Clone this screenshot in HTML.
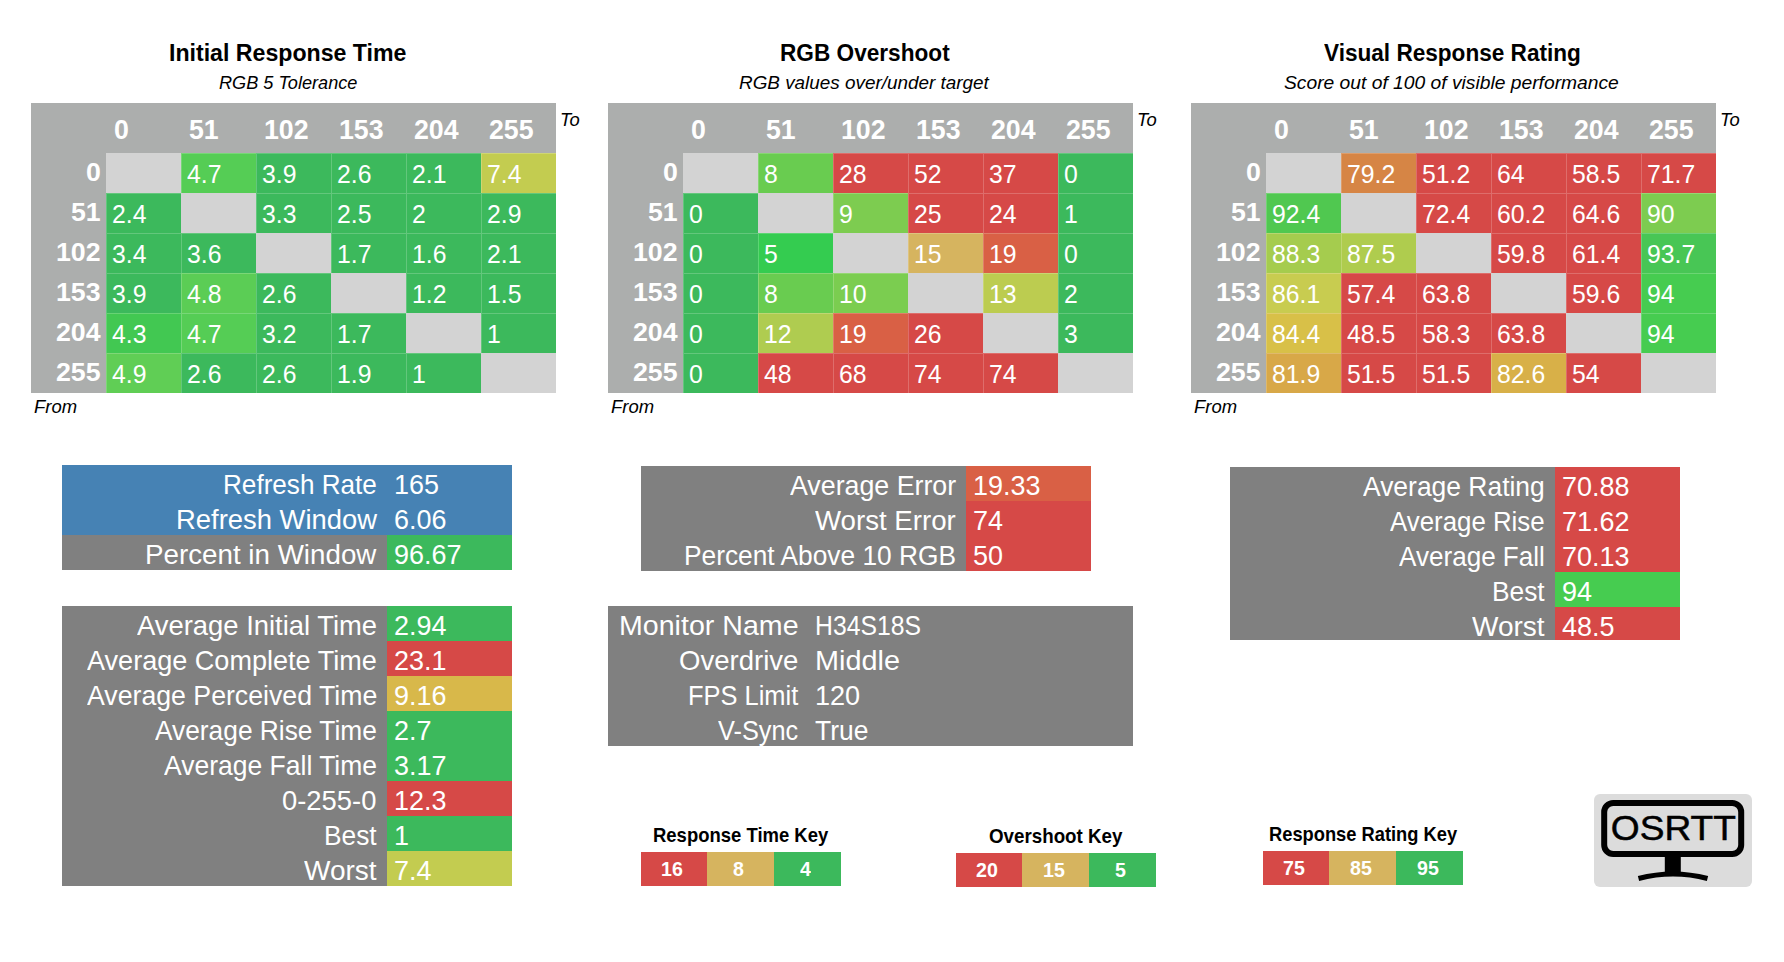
<!DOCTYPE html>
<html lang="en">
<head>
<meta charset="utf-8">
<title>OSRTT Heatmaps - H34S18S</title>
<style>
html,body{margin:0;padding:0;background:#fff}
body{width:1784px;height:962px;position:relative;overflow:hidden;font-family:"Liberation Sans",sans-serif}
div,.t,.logo{position:absolute}
.t{white-space:pre;line-height:1;color:#fff;transform-origin:0 0;display:block}
.b{font-weight:bold}
.i{font-style:italic}
.c{box-shadow:inset 1px 1px 0 rgba(255,255,255,.2)}
svg text{font-family:"Liberation Sans",sans-serif}
</style>
</head>
<body>
<!-- Initial Response Time -->
<span class="t b" style="left:169.1px;top:41px;font-size:24.67px;transform:scaleX(0.9383);color:#000">Initial Response Time</span>
<span class="t i" style="left:218.9px;top:74px;font-size:18.96px;transform:scaleX(0.9570);color:#000">RGB 5 Tolerance</span>
<div style="left:31px;top:103px;width:525px;height:290px;background:#acaead"></div>
<span class="t b" style="left:114.3px;top:117px;font-size:26.83px;transform:scaleX(0.9958)">0</span>
<span class="t b" style="left:189.3px;top:117px;font-size:26.83px;transform:scaleX(0.9958)">51</span>
<span class="t b" style="left:264.3px;top:117px;font-size:26.83px;transform:scaleX(0.9958)">102</span>
<span class="t b" style="left:339.3px;top:117px;font-size:26.83px;transform:scaleX(0.9958)">153</span>
<span class="t b" style="left:414.3px;top:117px;font-size:26.83px;transform:scaleX(0.9958)">204</span>
<span class="t b" style="left:489.3px;top:117px;font-size:26.83px;transform:scaleX(0.9958)">255</span>
<span class="t b" style="left:85.8px;top:159px;font-size:26.46px;transform:scaleX(1.0097)">0</span>
<span class="t b" style="left:71.0px;top:199px;font-size:26.46px;transform:scaleX(1.0097)">51</span>
<span class="t b" style="left:56.1px;top:239px;font-size:26.46px;transform:scaleX(1.0097)">102</span>
<span class="t b" style="left:56.1px;top:279px;font-size:26.46px;transform:scaleX(1.0097)">153</span>
<span class="t b" style="left:56.1px;top:319px;font-size:26.46px;transform:scaleX(1.0097)">204</span>
<span class="t b" style="left:56.1px;top:359px;font-size:26.46px;transform:scaleX(1.0097)">255</span>
<div style="left:106px;top:153px;width:75px;height:40px;background:#d3d3d3"></div>
<div class="c" style="left:181px;top:153px;width:75px;height:40px;background:#55cd55"></div>
<span class="t" style="left:186.9px;top:162px;font-size:24.88px;transform:scaleX(0.9957)">4.7</span>
<div class="c" style="left:256px;top:153px;width:75px;height:40px;background:#3cb95c"></div>
<span class="t" style="left:261.9px;top:162px;font-size:24.88px;transform:scaleX(0.9957)">3.9</span>
<div class="c" style="left:331px;top:153px;width:75px;height:40px;background:#3cb95c"></div>
<span class="t" style="left:336.9px;top:162px;font-size:24.88px;transform:scaleX(0.9957)">2.6</span>
<div class="c" style="left:406px;top:153px;width:75px;height:40px;background:#3cb95c"></div>
<span class="t" style="left:411.9px;top:162px;font-size:24.88px;transform:scaleX(0.9957)">2.1</span>
<div class="c" style="left:481px;top:153px;width:75px;height:40px;background:#c3cc50"></div>
<span class="t" style="left:486.9px;top:162px;font-size:24.88px;transform:scaleX(0.9957)">7.4</span>
<div class="c" style="left:106px;top:193px;width:75px;height:40px;background:#3cb95c"></div>
<span class="t" style="left:111.9px;top:202px;font-size:24.88px;transform:scaleX(0.9957)">2.4</span>
<div style="left:181px;top:193px;width:75px;height:40px;background:#d3d3d3"></div>
<div class="c" style="left:256px;top:193px;width:75px;height:40px;background:#3cb95c"></div>
<span class="t" style="left:261.9px;top:202px;font-size:24.88px;transform:scaleX(0.9957)">3.3</span>
<div class="c" style="left:331px;top:193px;width:75px;height:40px;background:#3cb95c"></div>
<span class="t" style="left:336.9px;top:202px;font-size:24.88px;transform:scaleX(0.9957)">2.5</span>
<div class="c" style="left:406px;top:193px;width:75px;height:40px;background:#3cb95c"></div>
<span class="t" style="left:411.9px;top:202px;font-size:24.88px;transform:scaleX(0.9969)">2</span>
<div class="c" style="left:481px;top:193px;width:75px;height:40px;background:#3cb95c"></div>
<span class="t" style="left:486.9px;top:202px;font-size:24.88px;transform:scaleX(0.9957)">2.9</span>
<div class="c" style="left:106px;top:233px;width:75px;height:40px;background:#3cb95c"></div>
<span class="t" style="left:111.9px;top:242px;font-size:24.88px;transform:scaleX(0.9957)">3.4</span>
<div class="c" style="left:181px;top:233px;width:75px;height:40px;background:#3cb95c"></div>
<span class="t" style="left:186.9px;top:242px;font-size:24.88px;transform:scaleX(0.9957)">3.6</span>
<div style="left:256px;top:233px;width:75px;height:40px;background:#d3d3d3"></div>
<div class="c" style="left:331px;top:233px;width:75px;height:40px;background:#3cb95c"></div>
<span class="t" style="left:336.9px;top:242px;font-size:24.88px;transform:scaleX(0.9957)">1.7</span>
<div class="c" style="left:406px;top:233px;width:75px;height:40px;background:#3cb95c"></div>
<span class="t" style="left:411.9px;top:242px;font-size:24.88px;transform:scaleX(0.9957)">1.6</span>
<div class="c" style="left:481px;top:233px;width:75px;height:40px;background:#3cb95c"></div>
<span class="t" style="left:486.9px;top:242px;font-size:24.88px;transform:scaleX(0.9957)">2.1</span>
<div class="c" style="left:106px;top:273px;width:75px;height:40px;background:#3cb95c"></div>
<span class="t" style="left:111.9px;top:282px;font-size:24.88px;transform:scaleX(0.9957)">3.9</span>
<div class="c" style="left:181px;top:273px;width:75px;height:40px;background:#5bcd55"></div>
<span class="t" style="left:186.9px;top:282px;font-size:24.88px;transform:scaleX(0.9957)">4.8</span>
<div class="c" style="left:256px;top:273px;width:75px;height:40px;background:#3cb95c"></div>
<span class="t" style="left:261.9px;top:282px;font-size:24.88px;transform:scaleX(0.9957)">2.6</span>
<div style="left:331px;top:273px;width:75px;height:40px;background:#d3d3d3"></div>
<div class="c" style="left:406px;top:273px;width:75px;height:40px;background:#3cb95c"></div>
<span class="t" style="left:411.9px;top:282px;font-size:24.88px;transform:scaleX(0.9957)">1.2</span>
<div class="c" style="left:481px;top:273px;width:75px;height:40px;background:#3cb95c"></div>
<span class="t" style="left:486.9px;top:282px;font-size:24.88px;transform:scaleX(0.9957)">1.5</span>
<div class="c" style="left:106px;top:313px;width:75px;height:40px;background:#42c852"></div>
<span class="t" style="left:111.9px;top:322px;font-size:24.88px;transform:scaleX(0.9957)">4.3</span>
<div class="c" style="left:181px;top:313px;width:75px;height:40px;background:#55cd55"></div>
<span class="t" style="left:186.9px;top:322px;font-size:24.88px;transform:scaleX(0.9957)">4.7</span>
<div class="c" style="left:256px;top:313px;width:75px;height:40px;background:#3cb95c"></div>
<span class="t" style="left:261.9px;top:322px;font-size:24.88px;transform:scaleX(0.9957)">3.2</span>
<div class="c" style="left:331px;top:313px;width:75px;height:40px;background:#3cb95c"></div>
<span class="t" style="left:336.9px;top:322px;font-size:24.88px;transform:scaleX(0.9957)">1.7</span>
<div style="left:406px;top:313px;width:75px;height:40px;background:#d3d3d3"></div>
<div class="c" style="left:481px;top:313px;width:75px;height:40px;background:#3cb95c"></div>
<span class="t" style="left:486.9px;top:322px;font-size:24.88px;transform:scaleX(0.9969)">1</span>
<div class="c" style="left:106px;top:353px;width:75px;height:40px;background:#60ce55"></div>
<span class="t" style="left:111.9px;top:362px;font-size:24.88px;transform:scaleX(0.9957)">4.9</span>
<div class="c" style="left:181px;top:353px;width:75px;height:40px;background:#3cb95c"></div>
<span class="t" style="left:186.9px;top:362px;font-size:24.88px;transform:scaleX(0.9957)">2.6</span>
<div class="c" style="left:256px;top:353px;width:75px;height:40px;background:#3cb95c"></div>
<span class="t" style="left:261.9px;top:362px;font-size:24.88px;transform:scaleX(0.9957)">2.6</span>
<div class="c" style="left:331px;top:353px;width:75px;height:40px;background:#3cb95c"></div>
<span class="t" style="left:336.9px;top:362px;font-size:24.88px;transform:scaleX(0.9957)">1.9</span>
<div class="c" style="left:406px;top:353px;width:75px;height:40px;background:#3cb95c"></div>
<span class="t" style="left:411.9px;top:362px;font-size:24.88px;transform:scaleX(0.9969)">1</span>
<div style="left:481px;top:353px;width:75px;height:40px;background:#d3d3d3"></div>
<span class="t i" style="left:559.9px;top:111px;font-size:18.96px;transform:scaleX(0.9707);color:#000">To</span>
<span class="t i" style="left:34.1px;top:398px;font-size:18.96px;transform:scaleX(0.9747);color:#000">From</span>
<!-- RGB Overshoot -->
<span class="t b" style="left:779.5px;top:41px;font-size:24.67px;transform:scaleX(0.9174);color:#000">RGB Overshoot</span>
<span class="t i" style="left:739.0px;top:74px;font-size:18.96px;transform:scaleX(0.9970);color:#000">RGB values over/under target</span>
<div style="left:608px;top:103px;width:525px;height:290px;background:#acaead"></div>
<span class="t b" style="left:691.3px;top:117px;font-size:26.83px;transform:scaleX(0.9958)">0</span>
<span class="t b" style="left:766.3px;top:117px;font-size:26.83px;transform:scaleX(0.9958)">51</span>
<span class="t b" style="left:841.3px;top:117px;font-size:26.83px;transform:scaleX(0.9958)">102</span>
<span class="t b" style="left:916.3px;top:117px;font-size:26.83px;transform:scaleX(0.9958)">153</span>
<span class="t b" style="left:991.3px;top:117px;font-size:26.83px;transform:scaleX(0.9958)">204</span>
<span class="t b" style="left:1066.3px;top:117px;font-size:26.83px;transform:scaleX(0.9958)">255</span>
<span class="t b" style="left:662.8px;top:159px;font-size:26.46px;transform:scaleX(1.0097)">0</span>
<span class="t b" style="left:648.0px;top:199px;font-size:26.46px;transform:scaleX(1.0097)">51</span>
<span class="t b" style="left:633.1px;top:239px;font-size:26.46px;transform:scaleX(1.0097)">102</span>
<span class="t b" style="left:633.1px;top:279px;font-size:26.46px;transform:scaleX(1.0097)">153</span>
<span class="t b" style="left:633.1px;top:319px;font-size:26.46px;transform:scaleX(1.0097)">204</span>
<span class="t b" style="left:633.1px;top:359px;font-size:26.46px;transform:scaleX(1.0097)">255</span>
<div style="left:683px;top:153px;width:75px;height:40px;background:#d3d3d3"></div>
<div class="c" style="left:758px;top:153px;width:75px;height:40px;background:#69cc50"></div>
<span class="t" style="left:763.9px;top:162px;font-size:24.88px;transform:scaleX(0.9969)">8</span>
<div class="c" style="left:833px;top:153px;width:75px;height:40px;background:#d64947"></div>
<span class="t" style="left:838.9px;top:162px;font-size:24.88px;transform:scaleX(0.9969)">28</span>
<div class="c" style="left:908px;top:153px;width:75px;height:40px;background:#d64947"></div>
<span class="t" style="left:913.9px;top:162px;font-size:24.88px;transform:scaleX(0.9969)">52</span>
<div class="c" style="left:983px;top:153px;width:75px;height:40px;background:#d64947"></div>
<span class="t" style="left:988.9px;top:162px;font-size:24.88px;transform:scaleX(0.9969)">37</span>
<div class="c" style="left:1058px;top:153px;width:75px;height:40px;background:#3cb95c"></div>
<span class="t" style="left:1063.9px;top:162px;font-size:24.88px;transform:scaleX(0.9969)">0</span>
<div class="c" style="left:683px;top:193px;width:75px;height:40px;background:#3cb95c"></div>
<span class="t" style="left:688.9px;top:202px;font-size:24.88px;transform:scaleX(0.9969)">0</span>
<div style="left:758px;top:193px;width:75px;height:40px;background:#d3d3d3"></div>
<div class="c" style="left:833px;top:193px;width:75px;height:40px;background:#7dcc50"></div>
<span class="t" style="left:838.9px;top:202px;font-size:24.88px;transform:scaleX(0.9969)">9</span>
<div class="c" style="left:908px;top:193px;width:75px;height:40px;background:#d64947"></div>
<span class="t" style="left:913.9px;top:202px;font-size:24.88px;transform:scaleX(0.9969)">25</span>
<div class="c" style="left:983px;top:193px;width:75px;height:40px;background:#d64947"></div>
<span class="t" style="left:988.9px;top:202px;font-size:24.88px;transform:scaleX(0.9969)">24</span>
<div class="c" style="left:1058px;top:193px;width:75px;height:40px;background:#3cb95c"></div>
<span class="t" style="left:1063.9px;top:202px;font-size:24.88px;transform:scaleX(0.9969)">1</span>
<div class="c" style="left:683px;top:233px;width:75px;height:40px;background:#3cb95c"></div>
<span class="t" style="left:688.9px;top:242px;font-size:24.88px;transform:scaleX(0.9969)">0</span>
<div class="c" style="left:758px;top:233px;width:75px;height:40px;background:#34cc50"></div>
<span class="t" style="left:763.9px;top:242px;font-size:24.88px;transform:scaleX(0.9969)">5</span>
<div style="left:833px;top:233px;width:75px;height:40px;background:#d3d3d3"></div>
<div class="c" style="left:908px;top:233px;width:75px;height:40px;background:#d6b45f"></div>
<span class="t" style="left:913.9px;top:242px;font-size:24.88px;transform:scaleX(0.9969)">15</span>
<div class="c" style="left:983px;top:233px;width:75px;height:40px;background:#d96045"></div>
<span class="t" style="left:988.9px;top:242px;font-size:24.88px;transform:scaleX(0.9969)">19</span>
<div class="c" style="left:1058px;top:233px;width:75px;height:40px;background:#3cb95c"></div>
<span class="t" style="left:1063.9px;top:242px;font-size:24.88px;transform:scaleX(0.9969)">0</span>
<div class="c" style="left:683px;top:273px;width:75px;height:40px;background:#3cb95c"></div>
<span class="t" style="left:688.9px;top:282px;font-size:24.88px;transform:scaleX(0.9969)">0</span>
<div class="c" style="left:758px;top:273px;width:75px;height:40px;background:#69cc50"></div>
<span class="t" style="left:763.9px;top:282px;font-size:24.88px;transform:scaleX(0.9969)">8</span>
<div class="c" style="left:833px;top:273px;width:75px;height:40px;background:#7bcd50"></div>
<span class="t" style="left:838.9px;top:282px;font-size:24.88px;transform:scaleX(0.9969)">10</span>
<div style="left:908px;top:273px;width:75px;height:40px;background:#d3d3d3"></div>
<div class="c" style="left:983px;top:273px;width:75px;height:40px;background:#bccc50"></div>
<span class="t" style="left:988.9px;top:282px;font-size:24.88px;transform:scaleX(0.9969)">13</span>
<div class="c" style="left:1058px;top:273px;width:75px;height:40px;background:#3cb95c"></div>
<span class="t" style="left:1063.9px;top:282px;font-size:24.88px;transform:scaleX(0.9969)">2</span>
<div class="c" style="left:683px;top:313px;width:75px;height:40px;background:#3cb95c"></div>
<span class="t" style="left:688.9px;top:322px;font-size:24.88px;transform:scaleX(0.9969)">0</span>
<div class="c" style="left:758px;top:313px;width:75px;height:40px;background:#afcc50"></div>
<span class="t" style="left:763.9px;top:322px;font-size:24.88px;transform:scaleX(0.9969)">12</span>
<div class="c" style="left:833px;top:313px;width:75px;height:40px;background:#d96045"></div>
<span class="t" style="left:838.9px;top:322px;font-size:24.88px;transform:scaleX(0.9969)">19</span>
<div class="c" style="left:908px;top:313px;width:75px;height:40px;background:#d64947"></div>
<span class="t" style="left:913.9px;top:322px;font-size:24.88px;transform:scaleX(0.9969)">26</span>
<div style="left:983px;top:313px;width:75px;height:40px;background:#d3d3d3"></div>
<div class="c" style="left:1058px;top:313px;width:75px;height:40px;background:#3cb95c"></div>
<span class="t" style="left:1063.9px;top:322px;font-size:24.88px;transform:scaleX(0.9969)">3</span>
<div class="c" style="left:683px;top:353px;width:75px;height:40px;background:#3cb95c"></div>
<span class="t" style="left:688.9px;top:362px;font-size:24.88px;transform:scaleX(0.9969)">0</span>
<div class="c" style="left:758px;top:353px;width:75px;height:40px;background:#d64947"></div>
<span class="t" style="left:763.9px;top:362px;font-size:24.88px;transform:scaleX(0.9969)">48</span>
<div class="c" style="left:833px;top:353px;width:75px;height:40px;background:#d64947"></div>
<span class="t" style="left:838.9px;top:362px;font-size:24.88px;transform:scaleX(0.9969)">68</span>
<div class="c" style="left:908px;top:353px;width:75px;height:40px;background:#d64947"></div>
<span class="t" style="left:913.9px;top:362px;font-size:24.88px;transform:scaleX(0.9969)">74</span>
<div class="c" style="left:983px;top:353px;width:75px;height:40px;background:#d64947"></div>
<span class="t" style="left:988.9px;top:362px;font-size:24.88px;transform:scaleX(0.9969)">74</span>
<div style="left:1058px;top:353px;width:75px;height:40px;background:#d3d3d3"></div>
<span class="t i" style="left:1136.9px;top:111px;font-size:18.96px;transform:scaleX(0.9707);color:#000">To</span>
<span class="t i" style="left:611.1px;top:398px;font-size:18.96px;transform:scaleX(0.9747);color:#000">From</span>
<!-- Visual Response Rating -->
<span class="t b" style="left:1323.8px;top:41px;font-size:24.67px;transform:scaleX(0.9158);color:#000">Visual Response Rating</span>
<span class="t i" style="left:1284.0px;top:74px;font-size:18.96px;transform:scaleX(1.0162);color:#000">Score out of 100 of visible performance</span>
<div style="left:1191px;top:103px;width:525px;height:290px;background:#acaead"></div>
<span class="t b" style="left:1274.3px;top:117px;font-size:26.83px;transform:scaleX(0.9958)">0</span>
<span class="t b" style="left:1349.3px;top:117px;font-size:26.83px;transform:scaleX(0.9958)">51</span>
<span class="t b" style="left:1424.3px;top:117px;font-size:26.83px;transform:scaleX(0.9958)">102</span>
<span class="t b" style="left:1499.3px;top:117px;font-size:26.83px;transform:scaleX(0.9958)">153</span>
<span class="t b" style="left:1574.3px;top:117px;font-size:26.83px;transform:scaleX(0.9958)">204</span>
<span class="t b" style="left:1649.3px;top:117px;font-size:26.83px;transform:scaleX(0.9958)">255</span>
<span class="t b" style="left:1245.8px;top:159px;font-size:26.46px;transform:scaleX(1.0097)">0</span>
<span class="t b" style="left:1231.0px;top:199px;font-size:26.46px;transform:scaleX(1.0097)">51</span>
<span class="t b" style="left:1216.1px;top:239px;font-size:26.46px;transform:scaleX(1.0097)">102</span>
<span class="t b" style="left:1216.1px;top:279px;font-size:26.46px;transform:scaleX(1.0097)">153</span>
<span class="t b" style="left:1216.1px;top:319px;font-size:26.46px;transform:scaleX(1.0097)">204</span>
<span class="t b" style="left:1216.1px;top:359px;font-size:26.46px;transform:scaleX(1.0097)">255</span>
<div style="left:1266px;top:153px;width:75px;height:40px;background:#d3d3d3"></div>
<div class="c" style="left:1341px;top:153px;width:75px;height:40px;background:#d68545"></div>
<span class="t" style="left:1346.9px;top:162px;font-size:24.88px;transform:scaleX(0.9961)">79.2</span>
<div class="c" style="left:1416px;top:153px;width:75px;height:40px;background:#d64947"></div>
<span class="t" style="left:1421.9px;top:162px;font-size:24.88px;transform:scaleX(0.9961)">51.2</span>
<div class="c" style="left:1491px;top:153px;width:75px;height:40px;background:#d64947"></div>
<span class="t" style="left:1496.9px;top:162px;font-size:24.88px;transform:scaleX(0.9969)">64</span>
<div class="c" style="left:1566px;top:153px;width:75px;height:40px;background:#d64947"></div>
<span class="t" style="left:1571.9px;top:162px;font-size:24.88px;transform:scaleX(0.9961)">58.5</span>
<div class="c" style="left:1641px;top:153px;width:75px;height:40px;background:#d64947"></div>
<span class="t" style="left:1646.9px;top:162px;font-size:24.88px;transform:scaleX(0.9961)">71.7</span>
<div class="c" style="left:1266px;top:193px;width:75px;height:40px;background:#50c850"></div>
<span class="t" style="left:1271.9px;top:202px;font-size:24.88px;transform:scaleX(0.9961)">92.4</span>
<div style="left:1341px;top:193px;width:75px;height:40px;background:#d3d3d3"></div>
<div class="c" style="left:1416px;top:193px;width:75px;height:40px;background:#d64947"></div>
<span class="t" style="left:1421.9px;top:202px;font-size:24.88px;transform:scaleX(0.9961)">72.4</span>
<div class="c" style="left:1491px;top:193px;width:75px;height:40px;background:#d64947"></div>
<span class="t" style="left:1496.9px;top:202px;font-size:24.88px;transform:scaleX(0.9961)">60.2</span>
<div class="c" style="left:1566px;top:193px;width:75px;height:40px;background:#d64947"></div>
<span class="t" style="left:1571.9px;top:202px;font-size:24.88px;transform:scaleX(0.9961)">64.6</span>
<div class="c" style="left:1641px;top:193px;width:75px;height:40px;background:#7dcc50"></div>
<span class="t" style="left:1646.9px;top:202px;font-size:24.88px;transform:scaleX(0.9969)">90</span>
<div class="c" style="left:1266px;top:233px;width:75px;height:40px;background:#a5cc4e"></div>
<span class="t" style="left:1271.9px;top:242px;font-size:24.88px;transform:scaleX(0.9961)">88.3</span>
<div class="c" style="left:1341px;top:233px;width:75px;height:40px;background:#afcc4e"></div>
<span class="t" style="left:1346.9px;top:242px;font-size:24.88px;transform:scaleX(0.9961)">87.5</span>
<div style="left:1416px;top:233px;width:75px;height:40px;background:#d3d3d3"></div>
<div class="c" style="left:1491px;top:233px;width:75px;height:40px;background:#d64947"></div>
<span class="t" style="left:1496.9px;top:242px;font-size:24.88px;transform:scaleX(0.9961)">59.8</span>
<div class="c" style="left:1566px;top:233px;width:75px;height:40px;background:#d64947"></div>
<span class="t" style="left:1571.9px;top:242px;font-size:24.88px;transform:scaleX(0.9961)">61.4</span>
<div class="c" style="left:1641px;top:233px;width:75px;height:40px;background:#48c655"></div>
<span class="t" style="left:1646.9px;top:242px;font-size:24.88px;transform:scaleX(0.9961)">93.7</span>
<div class="c" style="left:1266px;top:273px;width:75px;height:40px;background:#c8cc50"></div>
<span class="t" style="left:1271.9px;top:282px;font-size:24.88px;transform:scaleX(0.9961)">86.1</span>
<div class="c" style="left:1341px;top:273px;width:75px;height:40px;background:#d64947"></div>
<span class="t" style="left:1346.9px;top:282px;font-size:24.88px;transform:scaleX(0.9961)">57.4</span>
<div class="c" style="left:1416px;top:273px;width:75px;height:40px;background:#d64947"></div>
<span class="t" style="left:1421.9px;top:282px;font-size:24.88px;transform:scaleX(0.9961)">63.8</span>
<div style="left:1491px;top:273px;width:75px;height:40px;background:#d3d3d3"></div>
<div class="c" style="left:1566px;top:273px;width:75px;height:40px;background:#d64947"></div>
<span class="t" style="left:1571.9px;top:282px;font-size:24.88px;transform:scaleX(0.9961)">59.6</span>
<div class="c" style="left:1641px;top:273px;width:75px;height:40px;background:#46cc50"></div>
<span class="t" style="left:1646.9px;top:282px;font-size:24.88px;transform:scaleX(0.9969)">94</span>
<div class="c" style="left:1266px;top:313px;width:75px;height:40px;background:#d8c048"></div>
<span class="t" style="left:1271.9px;top:322px;font-size:24.88px;transform:scaleX(0.9961)">84.4</span>
<div class="c" style="left:1341px;top:313px;width:75px;height:40px;background:#d64947"></div>
<span class="t" style="left:1346.9px;top:322px;font-size:24.88px;transform:scaleX(0.9961)">48.5</span>
<div class="c" style="left:1416px;top:313px;width:75px;height:40px;background:#d64947"></div>
<span class="t" style="left:1421.9px;top:322px;font-size:24.88px;transform:scaleX(0.9961)">58.3</span>
<div class="c" style="left:1491px;top:313px;width:75px;height:40px;background:#d64947"></div>
<span class="t" style="left:1496.9px;top:322px;font-size:24.88px;transform:scaleX(0.9961)">63.8</span>
<div style="left:1566px;top:313px;width:75px;height:40px;background:#d3d3d3"></div>
<div class="c" style="left:1641px;top:313px;width:75px;height:40px;background:#46cc50"></div>
<span class="t" style="left:1646.9px;top:322px;font-size:24.88px;transform:scaleX(0.9969)">94</span>
<div class="c" style="left:1266px;top:353px;width:75px;height:40px;background:#d8a848"></div>
<span class="t" style="left:1271.9px;top:362px;font-size:24.88px;transform:scaleX(0.9961)">81.9</span>
<div class="c" style="left:1341px;top:353px;width:75px;height:40px;background:#d64947"></div>
<span class="t" style="left:1346.9px;top:362px;font-size:24.88px;transform:scaleX(0.9961)">51.5</span>
<div class="c" style="left:1416px;top:353px;width:75px;height:40px;background:#d64947"></div>
<span class="t" style="left:1421.9px;top:362px;font-size:24.88px;transform:scaleX(0.9961)">51.5</span>
<div class="c" style="left:1491px;top:353px;width:75px;height:40px;background:#d8b048"></div>
<span class="t" style="left:1496.9px;top:362px;font-size:24.88px;transform:scaleX(0.9961)">82.6</span>
<div class="c" style="left:1566px;top:353px;width:75px;height:40px;background:#d64947"></div>
<span class="t" style="left:1571.9px;top:362px;font-size:24.88px;transform:scaleX(0.9969)">54</span>
<div style="left:1641px;top:353px;width:75px;height:40px;background:#d3d3d3"></div>
<span class="t i" style="left:1719.9px;top:111px;font-size:18.96px;transform:scaleX(0.9707);color:#000">To</span>
<span class="t i" style="left:1194.1px;top:398px;font-size:18.96px;transform:scaleX(0.9747);color:#000">From</span>
<!-- refresh panel -->
<div style="left:62px;top:465px;width:325px;height:35px;background:#4682b4"></div>
<div style="left:387px;top:465px;width:125px;height:35px;background:#4682b4"></div>
<span class="t" style="left:222.9px;top:472px;font-size:26.83px;transform:scaleX(0.9734)">Refresh Rate</span>
<span class="t" style="left:393.8px;top:472px;font-size:26.83px;transform:scaleX(1.0060)">165</span>
<div style="left:62px;top:500px;width:325px;height:35px;background:#4682b4"></div>
<div style="left:387px;top:500px;width:125px;height:35px;background:#4682b4"></div>
<span class="t" style="left:175.7px;top:507px;font-size:26.83px;transform:scaleX(1.0213)">Refresh Window</span>
<span class="t" style="left:393.8px;top:507px;font-size:26.83px;transform:scaleX(1.0052)">6.06</span>
<div style="left:62px;top:535px;width:325px;height:35px;background:#808080"></div>
<div style="left:387px;top:535px;width:125px;height:35px;background:#3cb95c"></div>
<span class="t" style="left:145.4px;top:542px;font-size:26.83px;transform:scaleX(1.0344)">Percent in Window</span>
<span class="t" style="left:393.8px;top:542px;font-size:26.83px;transform:scaleX(1.0054)">96.67</span>
<!-- response time stats -->
<div style="left:62px;top:606px;width:325px;height:35px;background:#808080"></div>
<div style="left:387px;top:606px;width:125px;height:35px;background:#3cb95c"></div>
<span class="t" style="left:136.7px;top:613px;font-size:26.83px;transform:scaleX(1.0212)">Average Initial Time</span>
<span class="t" style="left:393.8px;top:613px;font-size:26.83px;transform:scaleX(1.0052)">2.94</span>
<div style="left:62px;top:641px;width:325px;height:35px;background:#808080"></div>
<div style="left:387px;top:641px;width:125px;height:35px;background:#d64947"></div>
<span class="t" style="left:87.0px;top:648px;font-size:26.83px;transform:scaleX(1.0086)">Average Complete Time</span>
<span class="t" style="left:393.8px;top:648px;font-size:26.83px;transform:scaleX(1.0052)">23.1</span>
<div style="left:62px;top:676px;width:325px;height:35px;background:#808080"></div>
<div style="left:387px;top:676px;width:125px;height:35px;background:#d8b84a"></div>
<span class="t" style="left:86.6px;top:683px;font-size:26.83px;transform:scaleX(0.9947)">Average Perceived Time</span>
<span class="t" style="left:393.8px;top:683px;font-size:26.83px;transform:scaleX(1.0052)">9.16</span>
<div style="left:62px;top:711px;width:325px;height:35px;background:#808080"></div>
<div style="left:387px;top:711px;width:125px;height:35px;background:#3cb95c"></div>
<span class="t" style="left:155.0px;top:718px;font-size:26.83px;transform:scaleX(0.9806)">Average Rise Time</span>
<span class="t" style="left:393.8px;top:718px;font-size:26.83px;transform:scaleX(1.0048)">2.7</span>
<div style="left:62px;top:746px;width:325px;height:35px;background:#808080"></div>
<div style="left:387px;top:746px;width:125px;height:35px;background:#3cb95c"></div>
<span class="t" style="left:163.7px;top:753px;font-size:26.83px;transform:scaleX(0.9877)">Average Fall Time</span>
<span class="t" style="left:393.8px;top:753px;font-size:26.83px;transform:scaleX(1.0052)">3.17</span>
<div style="left:62px;top:781px;width:325px;height:35px;background:#808080"></div>
<div style="left:387px;top:781px;width:125px;height:35px;background:#d64947"></div>
<span class="t" style="left:282.4px;top:788px;font-size:26.83px;transform:scaleX(1.0208)">0-255-0</span>
<span class="t" style="left:393.8px;top:788px;font-size:26.83px;transform:scaleX(1.0052)">12.3</span>
<div style="left:62px;top:816px;width:325px;height:35px;background:#808080"></div>
<div style="left:387px;top:816px;width:125px;height:35px;background:#3cb95c"></div>
<span class="t" style="left:324.1px;top:823px;font-size:26.83px;transform:scaleX(0.9812)">Best</span>
<span class="t" style="left:393.8px;top:823px;font-size:26.83px;transform:scaleX(1.0060)">1</span>
<div style="left:62px;top:851px;width:325px;height:35px;background:#808080"></div>
<div style="left:387px;top:851px;width:125px;height:35px;background:#c3cc50"></div>
<span class="t" style="left:304.2px;top:858px;font-size:26.83px;transform:scaleX(1.0440)">Worst</span>
<span class="t" style="left:393.8px;top:858px;font-size:26.83px;transform:scaleX(1.0048)">7.4</span>
<!-- overshoot stats -->
<div style="left:641px;top:466px;width:325px;height:35px;background:#808080"></div>
<div style="left:966px;top:466px;width:125px;height:35px;background:#d96045"></div>
<span class="t" style="left:789.7px;top:473px;font-size:26.83px;transform:scaleX(0.9976)">Average Error</span>
<span class="t" style="left:972.8px;top:473px;font-size:26.83px;transform:scaleX(1.0054)">19.33</span>
<div style="left:641px;top:501px;width:325px;height:35px;background:#808080"></div>
<div style="left:966px;top:501px;width:125px;height:35px;background:#d64947"></div>
<span class="t" style="left:815.0px;top:508px;font-size:26.83px;transform:scaleX(1.0303)">Worst Error</span>
<span class="t" style="left:972.8px;top:508px;font-size:26.83px;transform:scaleX(1.0060)">74</span>
<div style="left:641px;top:536px;width:325px;height:35px;background:#808080"></div>
<div style="left:966px;top:536px;width:125px;height:35px;background:#d64947"></div>
<span class="t" style="left:683.8px;top:543px;font-size:26.83px;transform:scaleX(0.9805)">Percent Above 10 RGB</span>
<span class="t" style="left:972.8px;top:543px;font-size:26.83px;transform:scaleX(1.0060)">50</span>
<!-- rating stats -->
<div style="left:1230px;top:467px;width:325px;height:35px;background:#808080"></div>
<div style="left:1555px;top:467px;width:125px;height:35px;background:#d64947"></div>
<span class="t" style="left:1363.0px;top:474px;font-size:26.83px;transform:scaleX(0.9854)">Average Rating</span>
<span class="t" style="left:1561.8px;top:474px;font-size:26.83px;transform:scaleX(1.0054)">70.88</span>
<div style="left:1230px;top:502px;width:325px;height:35px;background:#808080"></div>
<div style="left:1555px;top:502px;width:125px;height:35px;background:#d64947"></div>
<span class="t" style="left:1390.2px;top:509px;font-size:26.83px;transform:scaleX(0.9629)">Average Rise</span>
<span class="t" style="left:1561.8px;top:509px;font-size:26.83px;transform:scaleX(1.0054)">71.62</span>
<div style="left:1230px;top:537px;width:325px;height:35px;background:#808080"></div>
<div style="left:1555px;top:537px;width:125px;height:35px;background:#d64947"></div>
<span class="t" style="left:1398.9px;top:544px;font-size:26.83px;transform:scaleX(0.9717)">Average Fall</span>
<span class="t" style="left:1561.8px;top:544px;font-size:26.83px;transform:scaleX(1.0054)">70.13</span>
<div style="left:1230px;top:572px;width:325px;height:35px;background:#808080"></div>
<div style="left:1555px;top:572px;width:125px;height:35px;background:#46cc50"></div>
<span class="t" style="left:1492.1px;top:579px;font-size:26.83px;transform:scaleX(0.9812)">Best</span>
<span class="t" style="left:1561.8px;top:579px;font-size:26.83px;transform:scaleX(1.0060)">94</span>
<div style="left:1230px;top:607px;width:325px;height:33px;background:#808080"></div>
<div style="left:1555px;top:607px;width:125px;height:33px;background:#d64947"></div>
<span class="t" style="left:1472.2px;top:614px;font-size:26.83px;transform:scaleX(1.0440)">Worst</span>
<span class="t" style="left:1561.8px;top:614px;font-size:26.83px;transform:scaleX(1.0052)">48.5</span>
<!-- monitor info -->
<div style="left:608px;top:606px;width:525px;height:140px;background:#808080"></div>
<span class="t" style="left:618.9px;top:613px;font-size:26.83px;transform:scaleX(1.0656)">Monitor Name</span>
<span class="t" style="left:814.5px;top:613px;font-size:26.83px;transform:scaleX(0.9229)">H34S18S</span>
<span class="t" style="left:679.1px;top:648px;font-size:26.83px;transform:scaleX(1.0266)">Overdrive</span>
<span class="t" style="left:814.5px;top:648px;font-size:26.83px;transform:scaleX(1.0754)">Middle</span>
<span class="t" style="left:688.3px;top:683px;font-size:26.83px;transform:scaleX(0.9481)">FPS Limit</span>
<span class="t" style="left:814.5px;top:683px;font-size:26.83px;transform:scaleX(1.0094)">120</span>
<span class="t" style="left:718.3px;top:718px;font-size:26.83px;transform:scaleX(0.9431)">V-Sync</span>
<span class="t" style="left:814.5px;top:718px;font-size:26.83px;transform:scaleX(0.9853)">True</span>
<!-- Response Time Key -->
<span class="t b" style="left:652.6px;top:826px;font-size:19.73px;transform:scaleX(0.9370);color:#000">Response Time Key</span>
<div style="left:641px;top:852px;width:66px;height:34px;background:#d64947"></div>
<span class="t b" style="left:661.1px;top:860px;font-size:19.73px;transform:scaleX(0.9937)">16</span>
<div style="left:707px;top:852px;width:67px;height:34px;background:#d6b45f"></div>
<span class="t b" style="left:733.0px;top:860px;font-size:19.73px;transform:scaleX(0.9937)">8</span>
<div style="left:774px;top:852px;width:67px;height:34px;background:#3cb95c"></div>
<span class="t b" style="left:800.0px;top:860px;font-size:19.73px;transform:scaleX(0.9937)">4</span>
<!-- Overshoot Key -->
<span class="t b" style="left:989.0px;top:827px;font-size:19.73px;transform:scaleX(0.9511);color:#000">Overshoot Key</span>
<div style="left:956px;top:853px;width:66px;height:34px;background:#d64947"></div>
<span class="t b" style="left:976.1px;top:861px;font-size:19.73px;transform:scaleX(0.9937)">20</span>
<div style="left:1022px;top:853px;width:67px;height:34px;background:#d6b45f"></div>
<span class="t b" style="left:1042.6px;top:861px;font-size:19.73px;transform:scaleX(0.9937)">15</span>
<div style="left:1089px;top:853px;width:67px;height:34px;background:#3cb95c"></div>
<span class="t b" style="left:1115.0px;top:861px;font-size:19.73px;transform:scaleX(0.9937)">5</span>
<!-- Response Rating Key -->
<span class="t b" style="left:1268.7px;top:825px;font-size:19.73px;transform:scaleX(0.9281);color:#000">Response Rating Key</span>
<div style="left:1263px;top:851px;width:66px;height:34px;background:#d64947"></div>
<span class="t b" style="left:1283.1px;top:859px;font-size:19.73px;transform:scaleX(0.9937)">75</span>
<div style="left:1329px;top:851px;width:67px;height:34px;background:#d6b45f"></div>
<span class="t b" style="left:1349.6px;top:859px;font-size:19.73px;transform:scaleX(0.9937)">85</span>
<div style="left:1396px;top:851px;width:67px;height:34px;background:#3cb95c"></div>
<span class="t b" style="left:1416.6px;top:859px;font-size:19.73px;transform:scaleX(0.9937)">95</span>
<!-- OSRTT logo -->
<svg class="logo" style="left:1594px;top:794px" width="158" height="93" viewBox="0 0 158 93">
<rect x="0" y="0" width="158" height="93" rx="6" ry="6" fill="#dcdcdc"/>
<rect x="10.2" y="9" width="137" height="51" rx="9" ry="9" fill="none" stroke="#000" stroke-width="6"/>
<rect x="70.8" y="62" width="16" height="17" fill="#000"/>
<path d="M44.5 84.5 Q79 75.5 113.5 84.5" fill="none" stroke="#000" stroke-width="5"/>
<text x="79.3" y="46" font-size="34.7" text-anchor="middle" textLength="125" stroke="#000" stroke-width="0.5" lengthAdjust="spacingAndGlyphs" fill="#000">OSRTT</text>
</svg>
</body>
</html>
